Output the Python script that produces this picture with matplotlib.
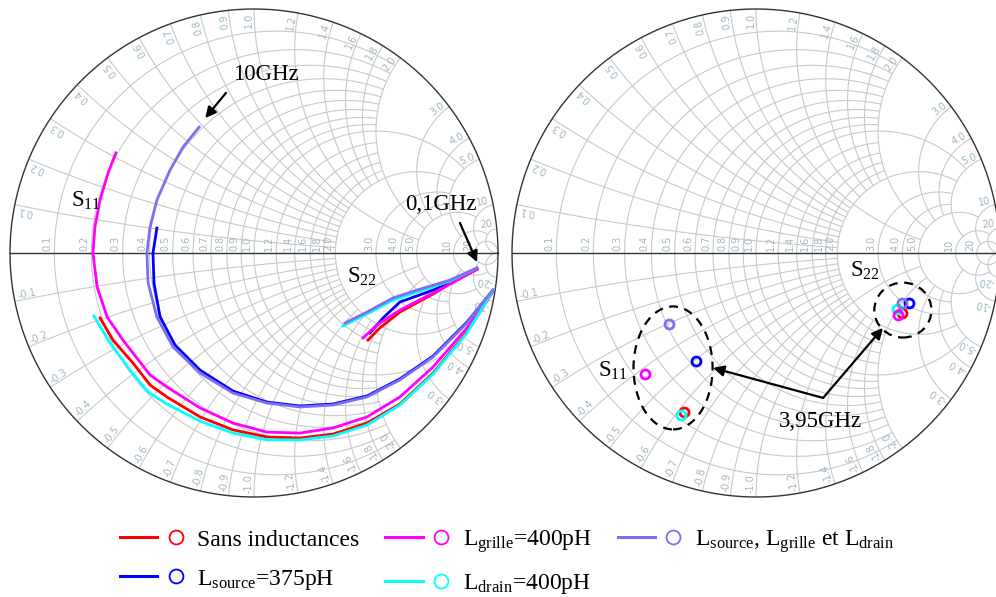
import numpy as np
import matplotlib
matplotlib.use('Agg')
import matplotlib.pyplot as plt
from matplotlib.lines import Line2D
from matplotlib.legend_handler import HandlerTuple
from matplotlib.patches import Ellipse

plt.rcParams['font.family'] = ['Liberation Serif', 'DejaVu Serif']
plt.rcParams['mathtext.fontset'] = 'custom'
plt.rcParams['mathtext.rm'] = 'Liberation Serif'
plt.rcParams['mathtext.it'] = 'Liberation Serif:italic'

# ---------------- Smith grid values ----------------
grid_vals = [0.1, 0.2, 0.3, 0.4, 0.5, 0.6, 0.7, 0.8, 0.9, 1.0,
             1.2, 1.4, 1.6, 1.8, 2.0, 3.0, 4.0, 5.0, 10.0, 20.0]
# reactance limit of each resistance circle / resistance limit of each reactance arc
grid_limits = [2, 2, 2, 2, 2, 2, 2, 2, 2, 5,
               2, 2, 2, 2, 5, 5, 5, 10, 20, np.inf]

# ---------------- data (reflection coefficients) ----------------
colors = ['#ff0000', '#0000ff', '#ff00ff', '#00ffff', '#7f6ff0']

# S11 traces, 0.1 GHz -> 10 GHz
s11_red_re = [0.980, 0.873, 0.734, 0.598, 0.463, 0.324, 0.189, 0.053, -0.086, -0.221, -0.357, -0.426, -0.496, -0.578, -0.631]
s11_red_im = [-0.156, -0.324, -0.492, -0.619, -0.697, -0.742, -0.758, -0.754, -0.725, -0.672, -0.590, -0.541, -0.451, -0.357, -0.266]

s11_blue_re = [0.980, 0.873, 0.734, 0.598, 0.463, 0.324, 0.189, 0.053, -0.086, -0.221, -0.324, -0.385, -0.410, -0.414, -0.398]
s11_blue_im = [-0.152, -0.283, -0.422, -0.516, -0.586, -0.619, -0.627, -0.611, -0.566, -0.480, -0.377, -0.262, -0.123, 0.0, 0.102]

s11_magenta_re = [0.980, 0.873, 0.734, 0.598, 0.463, 0.324, 0.189, 0.053, -0.086, -0.221, -0.357, -0.426, -0.537, -0.602, -0.643, -0.660, -0.652, -0.631, -0.598, -0.566]
s11_magenta_im = [-0.156, -0.307, -0.467, -0.590, -0.672, -0.717, -0.738, -0.734, -0.697, -0.635, -0.549, -0.500, -0.357, -0.262, -0.139, 0.0, 0.107, 0.217, 0.328, 0.410]

s11_cyan_re = [0.980, 0.873, 0.734, 0.598, 0.463, 0.324, 0.189, 0.053, -0.086, -0.221, -0.357, -0.434, -0.508, -0.590, -0.656]
s11_cyan_im = [-0.152, -0.328, -0.496, -0.623, -0.705, -0.750, -0.766, -0.766, -0.738, -0.689, -0.619, -0.570, -0.480, -0.369, -0.258]

s11_lav_re = [0.978, 0.872, 0.734, 0.598, 0.463, 0.324, 0.189, 0.053, -0.086, -0.221, -0.332, -0.398, -0.434, -0.439, -0.426, -0.398, -0.344, -0.291, -0.225]
s11_lav_im = [-0.152, -0.288, -0.426, -0.520, -0.590, -0.623, -0.631, -0.615, -0.574, -0.492, -0.385, -0.262, -0.123, 0.0, 0.107, 0.217, 0.340, 0.434, 0.516]

# S22 traces, 0.1 GHz -> 10 GHz
s22_red_re = [0.914, 0.803, 0.734, 0.598, 0.516, 0.467]
s22_red_im = [-0.066, -0.127, -0.168, -0.242, -0.307, -0.357]
s22_blue_re = [0.914, 0.803, 0.734, 0.598, 0.529, 0.475]
s22_blue_im = [-0.066, -0.123, -0.152, -0.201, -0.266, -0.328]
s22_magenta_re = [0.914, 0.803, 0.734, 0.598, 0.504, 0.447]
s22_magenta_im = [-0.066, -0.127, -0.164, -0.234, -0.295, -0.348]
s22_cyan_re = [0.914, 0.803, 0.668, 0.570, 0.463, 0.365]
s22_cyan_im = [-0.061, -0.115, -0.160, -0.193, -0.250, -0.299]
s22_lav_re = [0.914, 0.803, 0.668, 0.570, 0.463, 0.373]
s22_lav_im = [-0.061, -0.111, -0.152, -0.184, -0.242, -0.287]

# values at 3.95 GHz (order: red, blue, magenta, cyan, lavender)
s11_395_re = [-0.295, -0.246, -0.455, -0.307, -0.357]
s11_395_im = [-0.652, -0.443, -0.496, -0.664, -0.291]
s22_395_re = [0.598, 0.627, 0.582, 0.578, 0.598]
s22_395_im = [-0.246, -0.205, -0.254, -0.230, -0.205]

s11_re = [s11_red_re, s11_blue_re, s11_magenta_re, s11_cyan_re, s11_lav_re]
s11_im = [s11_red_im, s11_blue_im, s11_magenta_im, s11_cyan_im, s11_lav_im]
s22_re = [s22_red_re, s22_blue_re, s22_magenta_re, s22_cyan_re, s22_lav_re]
s22_im = [s22_red_im, s22_blue_im, s22_magenta_im, s22_cyan_im, s22_lav_im]

labels = ['Sans inductances', r'$\mathregular{L_{source}}$=375pH',
          r'$\mathregular{L_{grille}}$=400pH', r'$\mathregular{L_{drain}}$=400pH',
          r'$\mathregular{L_{source}}$, $\mathregular{L_{grille}}$ et $\mathregular{L_{drain}}$']

GRID_C = '#c9c9c9'
LABEL_C = '#9fb6c4'


def gam(z):
    return (z - 1) / (z + 1)


def fmt(v):
    return f'{v:.1f}' if v < 10 else f'{v:.0f}'


def smith(ax):
    ax.set_xlim(-1, 1)
    ax.set_ylim(-1, 1)
    ax.set_aspect('equal')
    ax.axis('off')
    for v, lim in zip(grid_vals, grid_limits):
        t = np.linspace(-np.arctan(lim), np.arctan(lim), 800)
        g = gam(v + 1j * np.tan(t))
        ax.plot(g.real, g.imag, color=GRID_C, lw=0.8, clip_on=False, zorder=1)
        t = np.linspace(0, np.arctan(lim), 800)
        for s in (1, -1):
            g = gam(np.tan(t) + 1j * s * v)
            ax.plot(g.real, g.imag, color=GRID_C, lw=0.8, clip_on=False, zorder=1)
    th = np.linspace(0, 2 * np.pi, 800)
    ax.plot(np.cos(th), np.sin(th), color='#333333', lw=1.0, clip_on=False, zorder=2)
    ax.plot([-1, 1], [0, 0], color='#333333', lw=1.0, clip_on=False, zorder=2)
    for v in grid_vals:
        g = (v - 1) / (v + 1)
        ax.text(g - 0.008, 0.008, fmt(v), rotation=90, rotation_mode='anchor',
                ha='left', va='bottom', fontsize=7, color=LABEL_C,
                family='DejaVu Sans', zorder=2)
        thv = np.angle(gam(1j * v))
        p = 0.985
        ax.text(p * np.cos(thv), p * np.sin(thv), fmt(v), rotation=np.degrees(thv),
                rotation_mode='anchor', ha='right', va='bottom', fontsize=7,
                color=LABEL_C, family='DejaVu Sans', zorder=2)
        ax.text(p * np.cos(-thv), p * np.sin(-thv), '-' + fmt(v),
                rotation=np.degrees(-thv) + 180, rotation_mode='anchor',
                ha='left', va='bottom', fontsize=7, color=LABEL_C,
                family='DejaVu Sans', zorder=2)


fig = plt.figure(figsize=(9.96, 5.97), dpi=100)
ax1 = fig.add_axes([10 / 996, 100 / 597, 488 / 996, 488 / 597])
ax2 = fig.add_axes([512 / 996, 100 / 597, 488 / 996, 488 / 597])
smith(ax1)
smith(ax2)

# left chart: traces
for i in range(5):
    ax1.plot(s11_re[i], s11_im[i], color=colors[i], lw=2.0, zorder=5)
    ax1.plot(s22_re[i], s22_im[i], color=colors[i], lw=2.0, zorder=5)

# right chart: markers at 3.95 GHz
for i in [0, 3, 2, 1, 4]:
    ax2.plot(s11_395_re[i], s11_395_im[i], 'o', mfc='none', mec=colors[i], mew=2, ms=6.5, zorder=6)
    ax2.plot(s22_395_re[i], s22_395_im[i], 'o', mfc='none', mec=colors[i], mew=2, ms=6.5, zorder=6)

TXT = 16.5
ap = dict(arrowstyle='-|>', color='black', lw=1.6, mutation_scale=16, shrinkA=0, shrinkB=0)

ax1.text(0.05, 0.73, '10GHz', fontsize=TXT, ha='center', va='center', zorder=7)
ax1.annotate('', xy=(-0.20, 0.553), xytext=(-0.115, 0.656), arrowprops=ap, zorder=7)
ax1.text(-0.75, 0.215, r'$\mathregular{S_{11}}$', fontsize=TXT, ha='left', va='center', zorder=7)
ax1.text(0.381, -0.098, r'$\mathregular{S_{22}}$', fontsize=TXT, ha='left', va='center', zorder=7)
ax1.text(0.766, 0.197, '0,1GHz', fontsize=TXT, ha='center', va='center', zorder=7)
ax1.annotate('', xy=(0.914, -0.037), xytext=(0.844, 0.123), arrowprops=ap, zorder=7)

ax2.text(0.385, -0.074, r'$\mathregular{S_{22}}$', fontsize=TXT, ha='left', va='center', zorder=7)
ax2.text(-0.648, -0.484, r'$\mathregular{S_{11}}$', fontsize=TXT, ha='left', va='center', zorder=7)
ax2.add_patch(Ellipse((0.602, -0.234), 0.234, 0.225, fill=False, ls=(0, (4, 3)), lw=1.6, color='black', zorder=7))
ax2.add_patch(Ellipse((-0.340, -0.471), 0.324, 0.504, fill=False, ls=(0, (4, 3)), lw=1.6, color='black', zorder=7))
ax2.text(0.266, -0.689, '3,95GHz', fontsize=TXT, ha='center', va='center', zorder=7)
ax2.annotate('', xy=(-0.176, -0.471), xytext=(0.275, -0.594), arrowprops=ap, zorder=7)
ax2.annotate('', xy=(0.520, -0.307), xytext=(0.275, -0.594), arrowprops=ap, zorder=7)

# legend
handles = []
for c in colors:
    handles.append((Line2D([], [], color=c, lw=2.2),
                    Line2D([], [], ls='none', marker='o', mfc='none', mec=c, mew=1.3, ms=10)))
fig.legend(handles, labels, handler_map={tuple: HandlerTuple(ndivide=None, pad=0.0)},
           ncol=3, loc='upper left', bbox_to_anchor=(120 / 996, 1 - 528 / 597),
           frameon=False, fontsize=17, handlelength=3.14, handletextpad=0.13,
           columnspacing=1.1, labelspacing=0.72, borderaxespad=0, borderpad=0)

fig.savefig('out.png', dpi=100)
